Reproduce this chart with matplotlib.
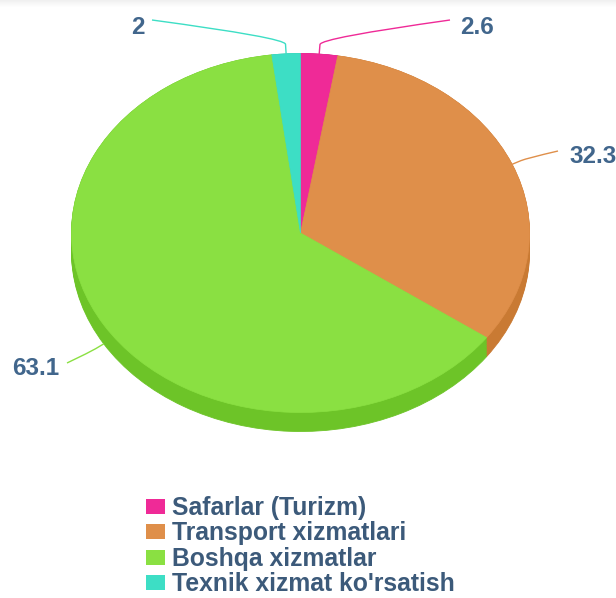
import numpy as np
import matplotlib
matplotlib.use('Agg')
import matplotlib.pyplot as plt
from matplotlib.patches import Patch, PathPatch
from matplotlib.path import Path

categories = ['Safarlar (Turizm)', 'Transport xizmatlari', 'Boshqa xizmatlar',
              "Texnik xizmat ko'rsatish"]
values = [2.6, 32.3, 63.1, 2.0]
top_colors = ['#EF2A97', '#DF8F4A', '#8AE042', '#3DDEC5']
side_colors = ['#C8207D', '#C97A33', '#6DC428', '#2FBFA8']
labels = ['2.6', '32.3', '63.1', '2']

W, H = 616, 598
# pie geometry in pixels (ellipse of the top face)
cx, cy, rx, ry = 300.5, 233, 229, 179.5
depth = 19 / ry

# label text anchors in pixels: (x, baseline y, ha)
label_pos = [(460, 34, 'left'), (569, 163, 'left'), (59, 375, 'right'), (145, 34, 'right')]
# where connector lines end, pixels
conn_end = [(450, 20), (558, 151), (67, 363), (152, 20)]

txt_color = '#41668C'
legend_color = '#3C5A7A'
font = 'Liberation Sans'

fig = plt.figure(figsize=(W / 100, H / 100), dpi=100)
ax = fig.add_axes([0, 0, 1, 1])


def to_unit(px, py):
    return (px - cx) / rx, (cy - py) / ry


# side of the 3d pie: stacked darker pies shifted down
for k in np.linspace(depth, 0.0, 12):
    wedges, _ = ax.pie(values, colors=side_colors, startangle=90, counterclock=False,
                       radius=1, center=(0, -k))
    for w in wedges:
        w.set_edgecolor(w.get_facecolor())
        w.set_linewidth(0.6)
        w.set_zorder(1)

# top face
wedges, _ = ax.pie(values, colors=top_colors, startangle=90, counterclock=False,
                   radius=1, center=(0, 0))
for w in wedges:
    w.set_edgecolor(w.get_facecolor())
    w.set_linewidth(0.5)
    w.set_zorder(3)

ax.set_aspect('auto')
ax.set_xlim(-cx / rx, (W - cx) / rx)
ax.set_ylim(-(H - cy) / ry, cy / ry)
ax.axis('off')

# data labels with connectors
total = sum(values)
cum = np.cumsum([0] + values[:-1])
for i, v in enumerate(values):
    mid = (cum[i] + v / 2) / total * 360
    ang = np.deg2rad(90 - mid)
    c, s = np.cos(ang), np.sin(ang)
    x0, y0 = c, s
    if s < 0:
        y0 -= depth
    stub_px = 16
    x1 = x0 + c * stub_px / rx
    y1 = y0 + s * stub_px / ry
    xm = x0 + c * stub_px * 0.6 / rx
    ym = y0 + s * stub_px * 0.6 / ry
    ex, ey = to_unit(*conn_end[i])
    path = Path([(x0, y0), (xm, ym), (x1, y1), (ex, ey)],
                [Path.MOVETO, Path.LINETO, Path.CURVE3, Path.CURVE3])
    ax.add_patch(PathPatch(path, fill=False, edgecolor=top_colors[i], lw=1.0,
                           zorder=4, clip_on=False))
    tx, ty = to_unit(label_pos[i][0], label_pos[i][1])
    ax.text(tx, ty, labels[i], ha=label_pos[i][2], va='baseline', fontsize=17.5,
            fontweight='bold', family=font, color=txt_color, zorder=5)

# legend
fs = 17.8
fpx = fs * 100 / 72
handles = [Patch(facecolor=c, edgecolor='none') for c in top_colors]
leg = fig.legend(handles, categories, loc='upper left',
                 bbox_to_anchor=(146 / W, 1 - 496 / H), frameon=False,
                 prop={'family': font, 'weight': 'bold', 'size': fs},
                 handlelength=19 / fpx, handleheight=14 / fpx,
                 handletextpad=7 / fpx, labelspacing=0.06,
                 borderpad=0, borderaxespad=0)
for t in leg.get_texts():
    t.set_color(legend_color)

# faint shadow strip at the top
sh = fig.add_axes([0, 1 - 8 / H, 1, 8 / H])
grad = np.linspace(0.94, 1.0, 8).reshape(-1, 1)
sh.imshow(np.repeat(grad, 2, axis=1), cmap='gray', vmin=0, vmax=1, aspect='auto')
sh.axis('off')

fig.savefig('out.png', dpi=100, facecolor='white')
